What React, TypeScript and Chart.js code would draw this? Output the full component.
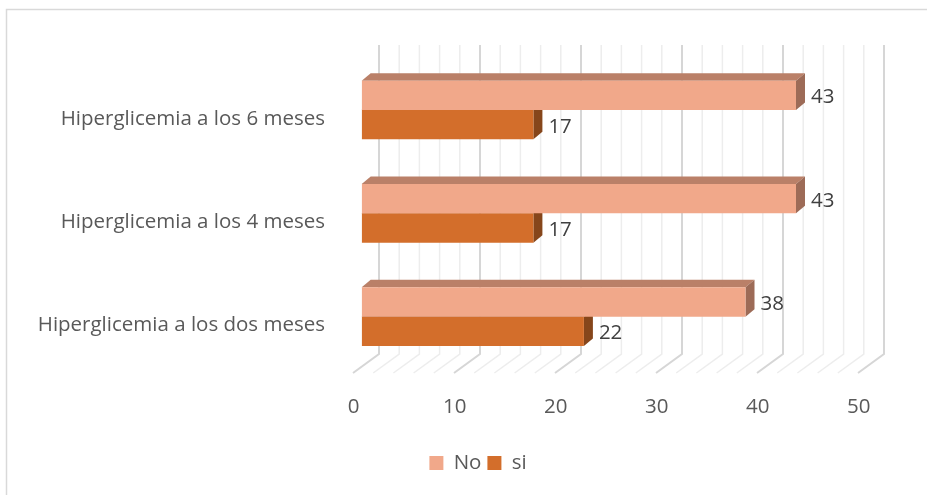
import React, { useEffect, useRef } from "react";
import { Chart, registerables } from "chart.js";

Chart.register(...registerables);

const categories = [
  "Hiperglicemia a los 6 meses",
  "Hiperglicemia a los 4 meses",
  "Hiperglicemia a los dos meses",
];
const noValues = [43, 43, 38];
const siValues = [17, 17, 22];
const seriesNames = ["No", "si"];
const axisMin = 0;
const axisMax = 50;
const axisStep = 10;
const gridStep = 2;

const FONT = "'Open Sans', 'DejaVu Sans', sans-serif";
const FONT_SIZE = 20.5;
const frontColors = ["#F1A88A", "#D36E2B"];
const topColors = ["#BA8068", "#8E4A1E"];
const sideColors = ["#9D6B57", "#86461B"];

const threeD = {
  id: "threeD",
  afterLayout(chart: any) {
    const lg = chart.legend;
    if (lg) {
      lg.left += 89.3;
    }
  },
  beforeDraw(chart: any) {
    const { ctx, width, height } = chart;
    ctx.save();
    ctx.fillStyle = "#FFFFFF";
    ctx.fillRect(0, 0, width, height);
    ctx.strokeStyle = "#D9D9D9";
    ctx.lineWidth = 1.5;
    ctx.beginPath();
    ctx.moveTo(6.5, height);
    ctx.lineTo(6.5, 9.5);
    ctx.lineTo(width, 9.5);
    ctx.stroke();
    ctx.restore();
  },
  beforeDatasetsDraw(chart: any) {
    const { ctx, chartArea } = chart;
    const xs = chart.scales.x;
    const wallTop = chartArea.top - 13.4;
    const wallBot = chartArea.bottom - 14.3;
    const floorFront = chartArea.bottom + 4.7;
    const backDx = 17.3;
    const frontDx = -8.7;
    ctx.save();
    for (let v = axisMin; v <= axisMax; v += gridStep) {
      const px = xs.getPixelForValue(v);
      const major = v % axisStep === 0;
      ctx.strokeStyle = major ? "#D6D6D6" : "#EDEDED";
      ctx.lineWidth = major ? 2 : 1.5;
      ctx.beginPath();
      ctx.moveTo(px + backDx, wallTop);
      ctx.lineTo(px + backDx, wallBot);
      ctx.lineTo(px + frontDx, floorFront);
      ctx.stroke();
    }
    const dx = 9;
    const dy = -7.5;
    for (let di = chart.data.datasets.length - 1; di >= 0; di--) {
      const meta = chart.getDatasetMeta(di);
      meta.data.forEach((el: any) => {
        const { x, y, base, height } = el.getProps(["x", "y", "base", "height"], true);
        const top = y - height / 2;
        const bot = y + height / 2;
        ctx.fillStyle = topColors[di];
        ctx.beginPath();
        ctx.moveTo(base, top);
        ctx.lineTo(base + dx, top + dy);
        ctx.lineTo(x + dx, top + dy);
        ctx.lineTo(x, top);
        ctx.closePath();
        ctx.fill();
        ctx.fillStyle = sideColors[di];
        ctx.beginPath();
        ctx.moveTo(x, top);
        ctx.lineTo(x + dx, top + dy);
        ctx.lineTo(x + dx, bot + dy);
        ctx.lineTo(x, bot);
        ctx.closePath();
        ctx.fill();
      });
    }
    ctx.restore();
  },
  afterDatasetsDraw(chart: any) {
    const { ctx } = chart;
    ctx.save();
    ctx.font = `${FONT_SIZE}px ${FONT}`;
    ctx.fillStyle = "#404040";
    ctx.textAlign = "left";
    ctx.textBaseline = "middle";
    chart.data.datasets.forEach((ds: any, di: number) => {
      const meta = chart.getDatasetMeta(di);
      meta.data.forEach((el: any, i: number) => {
        const { x, y } = el.getProps(["x", "y"], true);
        ctx.fillText(String(ds.data[i]), x + 15, y + 2);
      });
    });
    ctx.restore();
  },
};

export default function App() {
  const ref = useRef<HTMLCanvasElement | null>(null);
  useEffect(() => {
    if (!ref.current) return;
    const chart = new Chart(ref.current, {
      type: "bar",
      data: {
        labels: categories,
        datasets: [
          {
            label: seriesNames[0],
            data: noValues,
            backgroundColor: frontColors[0],
            borderWidth: 0,
            categoryPercentage: 0.5675,
            barPercentage: 1,
          },
          {
            label: seriesNames[1],
            data: siValues,
            backgroundColor: frontColors[1],
            borderWidth: 0,
            categoryPercentage: 0.5675,
            barPercentage: 1,
          },
        ],
      },
      options: {
        indexAxis: "y",
        animation: false,
        responsive: false,
        devicePixelRatio: 1,
        layout: { padding: { left: 0, right: 60.3, top: 58.4, bottom: 11.75 } },
        plugins: {
          tooltip: { enabled: false },
          legend: {
            position: "bottom",
            labels: {
              boxWidth: 14,
              boxHeight: 14,
              padding: 6,
              color: "#595959",
              font: { family: FONT, size: FONT_SIZE },
            },
          },
        },
        scales: {
          x: {
            type: "linear",
            min: axisMin,
            max: axisMax,
            grid: { display: false, drawTicks: false },
            border: { display: false },
            ticks: {
              stepSize: axisStep,
              padding: 26.4,
              labelOffset: -8,
              color: "#595959",
              font: { family: FONT, size: FONT_SIZE },
            },
            afterFit: (s: any) => {
              s.height = 78.45;
            },
          },
          y: {
            type: "category",
            grid: { display: false, drawTicks: false },
            border: { display: false },
            ticks: {
              padding: 36.7,
              labelOffset: 9,
              color: "#595959",
              font: { family: FONT, size: FONT_SIZE },
            },
            afterFit: (s: any) => {
              s.width = 361.7;
            },
          },
        },
      } as any,
      plugins: [threeD],
    });
    return () => chart.destroy();
  }, []);
  return (
    <div style={{ position: "fixed", left: 0, top: 0, width: 927, height: 495, background: "#fff" }}>
      <canvas ref={ref} width={927} height={495} style={{ width: 927, height: 495, display: "block" }} />
    </div>
  );
}
